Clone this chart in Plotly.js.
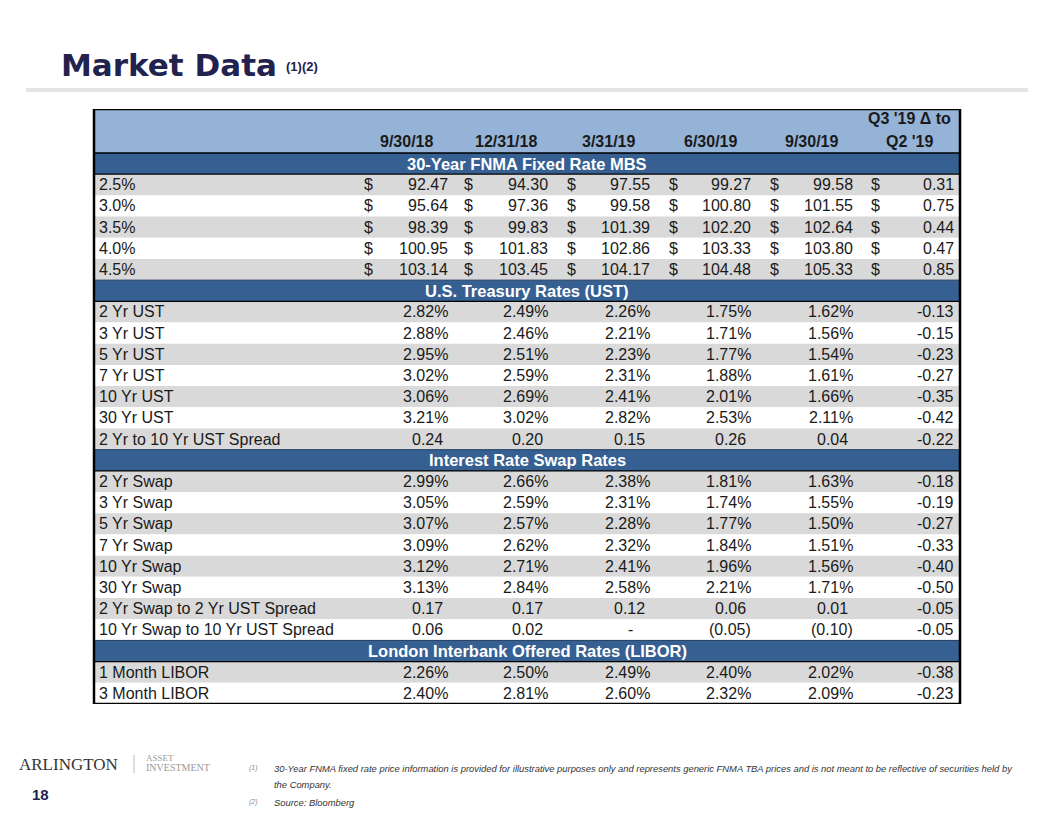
<!DOCTYPE html>
<html>
<head>
<meta charset="utf-8">
<script src="https://cdn.plot.ly/plotly-3.0.1.min.js"></script>
<style>html,body{margin:0;padding:0;background:#fff;}#chart{width:1056px;height:816px;}</style>
</head>
<body>
<div id="chart"></div>
<script>
// ---------------- DATA ----------------
const dates = ["9/30/18", "12/31/18", "3/31/19", "6/30/19", "9/30/19"];
const changeHeader = ["Q3 '19 \u0394 to", "Q2 '19"];
const sectionTitles = ["30-Year FNMA Fixed Rate MBS", "U.S. Treasury Rates (UST)", "Interest Rate Swap Rates", "London Interbank Offered Rates (LIBOR)"];

const mbsLabels = ["2.5%", "3.0%", "3.5%", "4.0%", "4.5%"];
const mbsPrices = [
  [92.47, 94.30, 97.55, 99.27, 99.58],
  [95.64, 97.36, 99.58, 100.80, 101.55],
  [98.39, 99.83, 101.39, 102.20, 102.64],
  [100.95, 101.83, 102.86, 103.33, 103.80],
  [103.14, 103.45, 104.17, 104.48, 105.33]
];
const mbsChange = [0.31, 0.75, 0.44, 0.47, 0.85];

const ustLabels = ["2 Yr UST", "3 Yr UST", "5 Yr UST", "7 Yr UST", "10 Yr UST", "30 Yr UST"];
const ustRates = [
  [2.82, 2.49, 2.26, 1.75, 1.62],
  [2.88, 2.46, 2.21, 1.71, 1.56],
  [2.95, 2.51, 2.23, 1.77, 1.54],
  [3.02, 2.59, 2.31, 1.88, 1.61],
  [3.06, 2.69, 2.41, 2.01, 1.66],
  [3.21, 3.02, 2.82, 2.53, 2.11]
];
const ustSpreadLabels = ["2 Yr to 10 Yr UST Spread"];
const ustSpreads = [[0.24, 0.20, 0.15, 0.26, 0.04]];
const ustChange = [-0.13, -0.15, -0.23, -0.27, -0.35, -0.42, -0.22];

const swapLabels = ["2 Yr Swap", "3 Yr Swap", "5 Yr Swap", "7 Yr Swap", "10 Yr Swap", "30 Yr Swap"];
const swapRates = [
  [2.99, 2.66, 2.38, 1.81, 1.63],
  [3.05, 2.59, 2.31, 1.74, 1.55],
  [3.07, 2.57, 2.28, 1.77, 1.50],
  [3.09, 2.62, 2.32, 1.84, 1.51],
  [3.12, 2.71, 2.41, 1.96, 1.56],
  [3.13, 2.84, 2.58, 2.21, 1.71]
];
const swapSpreadLabels = ["2 Yr Swap to 2 Yr UST Spread", "10 Yr Swap to 10 Yr UST Spread"];
const swapSpreads = [
  [0.17, 0.17, 0.12, 0.06, 0.01],
  [0.06, 0.02, 0.00, -0.05, -0.10]
];
const swapChange = [-0.18, -0.19, -0.27, -0.33, -0.40, -0.50, -0.05, -0.05];

const liborLabels = ["1 Month LIBOR", "3 Month LIBOR"];
const liborRates = [
  [2.26, 2.50, 2.49, 2.40, 2.02],
  [2.40, 2.81, 2.60, 2.32, 2.09]
];
const liborChange = [-0.38, -0.23];

const footnote1 = ["30-Year FNMA fixed rate price information is provided for illustrative purposes only and represents generic FNMA TBA prices and is not meant to be reflective of securities held by", "the Company."];
const footnote2 = "Source: Bloomberg";

// ---------------- LAYOUT CONSTANTS ----------------
const W = 1056, H = 816;
const tableLeft = 94, tableRight = 960;
const tableTopPx = 109, tableBottomPx = 704, bodyTopPx = 153;
const labelX = 97;
const dollarLeft = [362, 462, 565, 667, 768, 869];
const valueRight = [450, 550, 652, 753, 855, 956];
const NAVY = "#22224f";
const FONT = "Liberation Sans, Arial, sans-serif";
const LIGHT = "#95b3d7", DARK = "#366092", STRIPE = "#d9d9d9";

// ---------------- FORMATTERS ----------------
const fmtMoney = v => v.toFixed(2);
const fmtPct = v => v.toFixed(2) + "%";
const fmtSpread = v => v === 0 ? "-" : (v < 0 ? "(" + Math.abs(v).toFixed(2) + ")" : v.toFixed(2));
const fmtChange = v => v.toFixed(2);

// ---------------- BUILD ROWS ----------------
const rows = [];
function addSection(title, items) {
  rows.push({type: "section", title: title});
  items.forEach((it, i) => { it.stripe = (i % 2 === 0); rows.push(it); });
}
addSection(sectionTitles[0], mbsLabels.map((l, i) => ({type: "money", label: l, vals: mbsPrices[i], chg: mbsChange[i]})));
addSection(sectionTitles[1], ustLabels.map((l, i) => ({type: "pct", label: l, vals: ustRates[i], chg: ustChange[i]}))
  .concat(ustSpreadLabels.map((l, i) => ({type: "spread", label: l, vals: ustSpreads[i], chg: ustChange[ustLabels.length + i]}))));
addSection(sectionTitles[2], swapLabels.map((l, i) => ({type: "pct", label: l, vals: swapRates[i], chg: swapChange[i]}))
  .concat(swapSpreadLabels.map((l, i) => ({type: "spread", label: l, vals: swapSpreads[i], chg: swapChange[swapLabels.length + i]}))));
addSection(sectionTitles[3], liborLabels.map((l, i) => ({type: "pct", label: l, vals: liborRates[i], chg: liborChange[i]})));

const nRows = rows.length;
const rowPx = (tableBottomPx - bodyTopPx) / nRows;
const headerRows = (bodyTopPx - tableTopPx) / rowPx;

const shapes = [];
const annotations = [];
const textFont = {family: FONT, size: 16, color: "#1a1a1a"};

// header background
shapes.push({type: "rect", xref: "x", yref: "y", x0: tableLeft, x1: tableRight, y0: -headerRows, y1: 0, fillcolor: LIGHT, line: {width: 0}, layer: "below"});

rows.forEach((r, i) => {
  const yc = i + 0.5;
  if (r.type === "section") {
    shapes.push({type: "rect", xref: "x", yref: "y", x0: tableLeft, x1: tableRight, y0: i, y1: i + 1, fillcolor: DARK, line: {width: 0}, layer: "below"});
    annotations.push({xref: "x", yref: "y", x: (tableLeft + tableRight) / 2, y: yc, text: "<b>" + r.title + "</b>", showarrow: false, xanchor: "center", yanchor: "middle", font: {family: FONT, size: 16.5, color: "#fff"}});
    return;
  }
  shapes.push({type: "rect", xref: "x", yref: "y", x0: tableLeft, x1: tableRight, y0: i, y1: i + 1, fillcolor: r.stripe ? STRIPE : "#ffffff", line: {width: 0}, layer: "below"});
  annotations.push({xref: "x", yref: "y", x: labelX, y: yc, text: r.label, showarrow: false, xanchor: "left", yanchor: "middle", font: textFont});
  r.vals.forEach((v, c) => {
    let txt, xr = valueRight[c];
    if (r.type === "money") {
      txt = fmtMoney(v);
      annotations.push({xref: "x", yref: "y", x: dollarLeft[c], y: yc, text: "$", showarrow: false, xanchor: "left", yanchor: "middle", font: textFont});
    } else if (r.type === "pct") {
      txt = fmtPct(v);
    } else {
      txt = fmtSpread(v);
      if (v === 0) xr -= 17; else if (v > 0) xr -= 5;
    }
    annotations.push({xref: "x", yref: "y", x: xr, y: yc, text: txt, showarrow: false, xanchor: "right", yanchor: "middle", font: textFont});
  });
  if (r.type === "money") {
    annotations.push({xref: "x", yref: "y", x: dollarLeft[5], y: yc, text: "$", showarrow: false, xanchor: "left", yanchor: "middle", font: textFont});
  }
  annotations.push({xref: "x", yref: "y", x: valueRight[5], y: yc, text: fmtChange(r.chg), showarrow: false, xanchor: "right", yanchor: "middle", font: textFont});
});

// lines under header and section headers
shapes.push({type: "line", xref: "x", yref: "y", x0: tableLeft, x1: tableRight, y0: 0, y1: 0, line: {color: "#000", width: 1.5}});
rows.forEach((r, i) => {
  if (r.type === "section" && i > 0) {
    shapes.push({type: "line", xref: "x", yref: "y", x0: tableLeft, x1: tableRight, y0: i, y1: i, line: {color: "#1f3a5a", width: 1}});
  }
  if (r.type === "section") {
    shapes.push({type: "line", xref: "x", yref: "y", x0: tableLeft, x1: tableRight, y0: i + 1, y1: i + 1, line: {color: "#000", width: 1.2}});
  }
});
// outer border
shapes.push({type: "rect", xref: "x", yref: "y", x0: tableLeft, x1: tableRight, y0: -headerRows, y1: nRows, fillcolor: "rgba(0,0,0,0)", line: {color: "#000", width: 2.5}});

// header texts
const hdrFont = {family: FONT, size: 16, color: "#1a1a1a"};
const yHdr2 = -headerRows + (142 - tableTopPx) / rowPx;
const yHdr1 = -headerRows + (119 - tableTopPx) / rowPx;
dates.forEach((d, c) => {
  annotations.push({xref: "x", yref: "y", x: (dollarLeft[c] + valueRight[c]) / 2, y: yHdr2, text: "<b>" + d + "</b>", showarrow: false, xanchor: "center", yanchor: "middle", font: hdrFont});
});
const chgCenter = 909;
annotations.push({xref: "x", yref: "y", x: chgCenter, y: yHdr1, text: "<b>" + changeHeader[0] + "</b>", showarrow: false, xanchor: "center", yanchor: "middle", font: hdrFont});
annotations.push({xref: "x", yref: "y", x: chgCenter, y: yHdr2, text: "<b>" + changeHeader[1] + "</b>", showarrow: false, xanchor: "center", yanchor: "middle", font: hdrFont});

// ---------------- PAGE DECORATION (paper coords) ----------------
const px = x => x / W, py = y => 1 - y / H;
// title
annotations.push({xref: "paper", yref: "paper", x: px(59), y: py(65), text: "<b>Market Data</b>", showarrow: false, xanchor: "left", yanchor: "middle", font: {family: "DejaVu Sans, sans-serif", size: 31, color: NAVY}});
annotations.push({xref: "paper", yref: "paper", x: px(284), y: py(66), text: "<b>(1)(2)</b>", showarrow: false, xanchor: "left", yanchor: "middle", font: {family: FONT, size: 13, color: NAVY}});
shapes.push({type: "rect", xref: "paper", yref: "paper", x0: px(26), x1: px(1028), y0: py(92), y1: py(88), fillcolor: "#e4e4e4", line: {width: 0}});

// footer logo
annotations.push({xref: "paper", yref: "paper", x: px(17), y: py(764), text: "ARLINGTON", showarrow: false, xanchor: "left", yanchor: "middle", font: {family: "Liberation Serif, Times New Roman, serif", size: 17, color: "#333"}});
shapes.push({type: "line", xref: "paper", yref: "paper", x0: px(134), x1: px(134), y0: py(755), y1: py(773), line: {color: "#bbb", width: 1}});
annotations.push({xref: "paper", yref: "paper", x: px(144), y: py(758), text: "ASSET", showarrow: false, xanchor: "left", yanchor: "middle", font: {family: "Liberation Serif, serif", size: 9, color: "#9a9a9a"}});
annotations.push({xref: "paper", yref: "paper", x: px(144), y: py(767), text: "INVESTMENT", showarrow: false, xanchor: "left", yanchor: "middle", font: {family: "Liberation Serif, serif", size: 10, color: "#9a9a9a"}});
annotations.push({xref: "paper", yref: "paper", x: px(30), y: py(794), text: "<b>18</b>", showarrow: false, xanchor: "left", yanchor: "middle", font: {family: FONT, size: 15, color: NAVY}});

// footnotes
const fnFont = {family: FONT, size: 9.4, color: "#333"};
const fnNumFont = {family: FONT, size: 7, color: "#888"};
annotations.push({xref: "paper", yref: "paper", x: px(247), y: py(768), text: "<i>(1)</i>", showarrow: false, xanchor: "left", yanchor: "middle", font: fnNumFont});
annotations.push({xref: "paper", yref: "paper", x: px(272), y: py(768), text: "<i>" + footnote1[0] + "</i>", showarrow: false, xanchor: "left", yanchor: "middle", font: fnFont});
annotations.push({xref: "paper", yref: "paper", x: px(272), y: py(784), text: "<i>" + footnote1[1] + "</i>", showarrow: false, xanchor: "left", yanchor: "middle", font: fnFont});
annotations.push({xref: "paper", yref: "paper", x: px(247), y: py(802), text: "<i>(2)</i>", showarrow: false, xanchor: "left", yanchor: "middle", font: fnNumFont});
annotations.push({xref: "paper", yref: "paper", x: px(272), y: py(802), text: "<i>" + footnote2 + "</i>", showarrow: false, xanchor: "left", yanchor: "middle", font: fnFont});

const layout = {
  width: W, height: H,
  margin: {l: 0, r: 0, t: 0, b: 0, pad: 0},
  paper_bgcolor: "#fff", plot_bgcolor: "rgba(0,0,0,0)",
  showlegend: false,
  xaxis: {range: [0, W], domain: [0, 1], visible: false, fixedrange: true},
  yaxis: {range: [nRows, -headerRows], domain: [1 - tableBottomPx / H, 1 - tableTopPx / H], visible: false, fixedrange: true},
  shapes: shapes,
  annotations: annotations
};

Plotly.newPlot("chart", [{type: "scatter", x: [], y: [], mode: "markers", hoverinfo: "skip"}], layout, {staticPlot: true, displayModeBar: false});
</script>
</body>
</html>
